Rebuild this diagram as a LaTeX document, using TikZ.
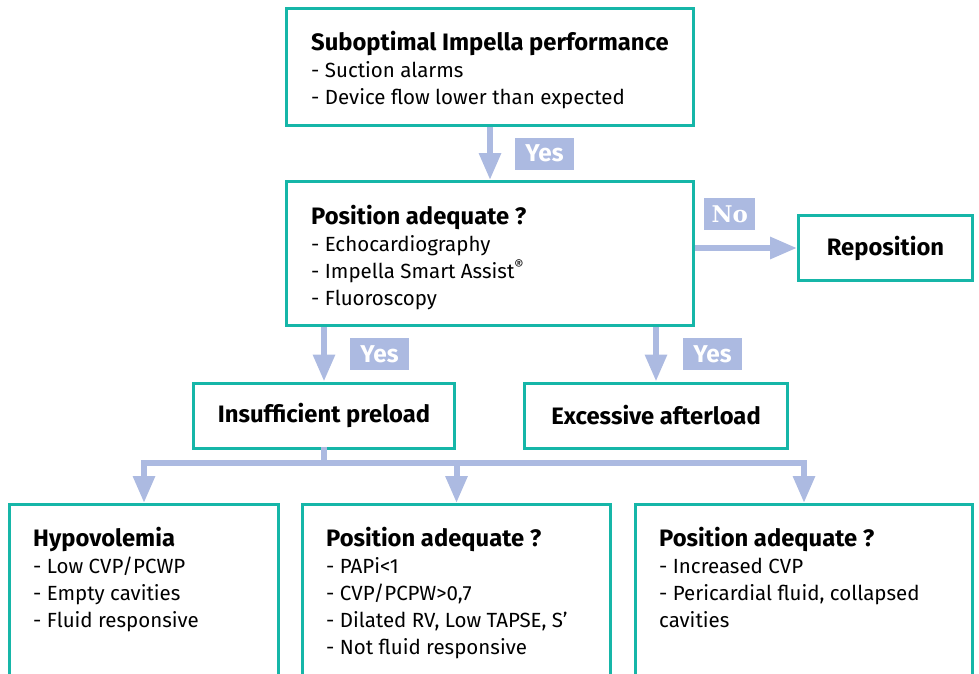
\documentclass[tikz,border=0pt]{standalone}
\usepackage{fontspec}
\setmainfont{Fira Sans}[BoldFeatures={Scale=1.16}]
\newfontfamily\slabfont{DejaVu Serif}
\usetikzlibrary{arrows.meta}
\usetikzlibrary{calc}
\definecolor{mteal}{RGB}{22,182,168}
\definecolor{mlav}{RGB}{172,186,225}

\begin{document}
\begin{tikzpicture}[x=1pt, y=-1pt,
    box/.style={draw=mteal, line width=3pt, fill=white, inner sep=0pt, align=center, font=\fontsize{20.5}{27}\selectfont\bfseries},
    boxtext/.style={anchor=north west, align=left, inner sep=0pt, font=\fontsize{20.5}{27}\selectfont},
    answer/.style={fill=mlav, text=white, inner sep=0pt, minimum height=32pt, font=\fontsize{21}{24}\selectfont\bfseries},
    arrow/.style={-{Triangle[width=21pt,length=27pt]}, line width=6pt, draw=mlav},
    bar/.style={line width=6pt, draw=mlav, line cap=rect},
]
\clip (0,0) rectangle (979,674);

\node[box, minimum width=407pt, minimum height=117pt] (subopt) at (490,67) {};
\node[box, minimum width=407pt, minimum height=144pt] (position) at (490,253.5) {};
\node[box, minimum width=174pt, minimum height=65pt] (reposition) at (885.5,248) {Reposition};
\node[box, minimum width=261pt, minimum height=65pt] (preload) at (324,415.5) {Insufficient preload};
\node[box, minimum width=263pt, minimum height=65pt] (afterload) at (656,415.5) {Excessive afterload};
\node[box, minimum width=269pt, minimum height=214pt] (hypo) at (144,611.5) {};
\node[box, minimum width=308pt, minimum height=214pt] (rvfail) at (456.5,611.5) {};
\node[box, minimum width=337pt, minimum height=214pt] (tamp) at (804,611.5) {};

\node[boxtext] (subopttext) at (311,31) {\textbf{Suboptimal Impella performance}\\- Suction alarms\\- Device flow lower than expected};
\node[boxtext] (positiontext) at (311,205) {\textbf{Position adequate ?}\\- Echocardiography\\- Impella Smart Assist\textsuperscript{\textregistered}\\- Fluoroscopy};
\node[boxtext] (hypotext) at (33,527) {\textbf{Hypovolemia}\\- Low CVP/PCWP\\- Empty cavities\\- Fluid responsive};
\node[boxtext] (rvfailtext) at (326,527) {\textbf{Position adequate ?}\\- PAPi<1\\- CVP/PCPW>0,7\\- Dilated RV, Low TAPSE, S’\\- Not fluid responsive};
\node[boxtext] (tamptext) at (659,527) {\textbf{Position adequate ?}\\- Increased CVP\\- Pericardial fluid, collapsed\\cavities};

\coordinate (split) at (324,463);

\draw[arrow] (subopt) -- node[answer, right=22pt, minimum width=59pt] {Yes} (position);
\draw[arrow] (position.east |- reposition) -- node[answer, pos=0.34, above=15pt, minimum width=51pt, font=\fontsize{23}{24}\selectfont\slabfont\bfseries] {No} (reposition);
\draw[arrow] (position.south -| preload) -- node[answer, right=23pt, minimum width=59pt] {Yes} (preload);
\draw[arrow] (position.south -| afterload) -- node[answer, right=24pt, minimum width=59pt] {Yes} (afterload);

\draw[bar] (preload.south) -- (split);
\draw[bar] (hypo.north |- split) -- (tamp.north |- split);
\draw[arrow] (hypo.north |- split) -- (hypo);
\draw[arrow] (rvfail.north |- split) -- (rvfail);
\draw[arrow] (tamp.north |- split) -- (tamp);
\end{tikzpicture}
\end{document}
